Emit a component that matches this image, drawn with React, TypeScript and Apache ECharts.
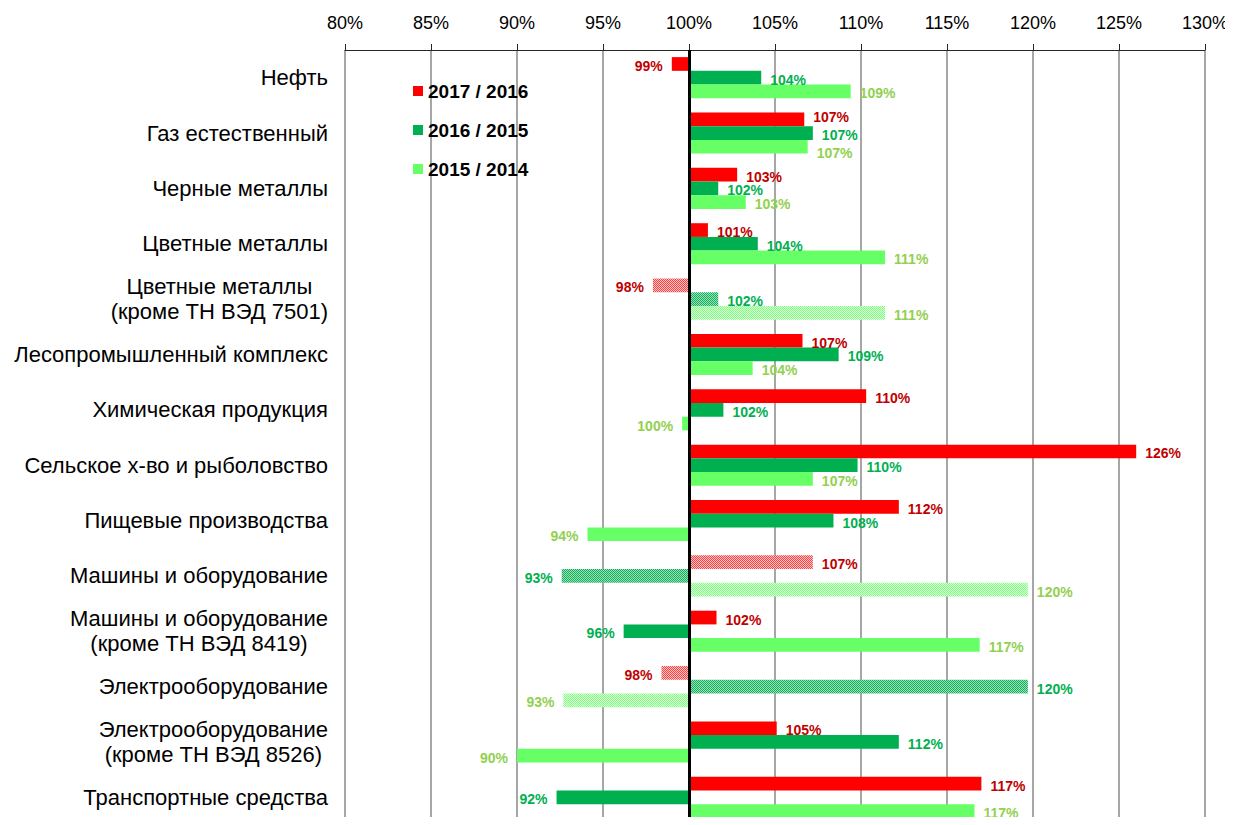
import React, { useEffect, useRef } from "react";
import * as echarts from "echarts";

const categories = [
  "Нефть",
  "Газ естественный",
  "Черные металлы",
  "Цветные металлы",
  "Цветные металлы\n(кроме ТН ВЭД 7501)",
  "Лесопромышленный комплекс",
  "Химическая продукция",
  "Сельское х-во и рыболовство",
  "Пищевые производства",
  "Машины и оборудование",
  "Машины и оборудование\n(кроме ТН ВЭД 8419)",
  "Электрооборудование",
  "Электрооборудование\n(кроме ТН ВЭД 8526)",
  "Транспортные средства",
];

const seriesNames = ["2017 / 2016", "2016 / 2015", "2015 / 2014"];

const values2017 = [99.0, 106.7, 102.8, 101.1, 97.9, 106.6, 110.3, 126.0, 112.2, 107.2, 101.6, 98.4, 105.1, 117.0];
const values2016 = [104.2, 107.2, 101.7, 104.0, 101.7, 108.7, 102.0, 109.8, 108.4, 92.6, 96.2, 119.7, 112.2, 92.3];
const values2015 = [109.4, 106.9, 103.3, 111.4, 111.4, 103.7, 99.6, 107.2, 94.1, 119.7, 116.9, 92.7, 90.0, 116.6];

// categories whose bars are drawn hatched
const hatchedRows = [4, 9, 11];
// row whose three labels stack tightly (spread slightly apart)
const crowdedRow = 1;

const tickValues = [80, 85, 90, 95, 100, 105, 110, 115, 120, 125, 130];
const baseValue = 100;

const barColors = ["#ff0000", "#00b050", "#66ff66"];
const hatchLight = ["#ffc8c8", "#9ee0bc", "#dcffdc"];
const hatchDark = ["#ff4040", "#10b058", "#80ff80"];
const labelColors = ["#c00000", "#00b050", "#92d050"];

const font = '"Liberation Sans", Arial, sans-serif';

function makeHatch(dark: string, light: string): any {
  const c = document.createElement("canvas");
  c.width = 4;
  c.height = 4;
  const ctx = c.getContext("2d")!;
  for (let y = 0; y < 4; y++) {
    for (let x = 0; x < 4; x++) {
      ctx.fillStyle = (x + y) % 2 === 0 ? dark : light;
      ctx.fillRect(x, y, 1, 1);
    }
  }
  return { image: c.toDataURL(), repeat: "repeat" };
}

export default function App() {
  const ref = useRef<HTMLDivElement>(null);

  useEffect(() => {
    if (!ref.current) return;
    const chart = echarts.init(ref.current, undefined, { renderer: "svg" });
    const all = [values2017, values2016, values2015];
    const patterns = barColors.map((_, i) => makeHatch(hatchDark[i], hatchLight[i]));
    const crowdOffsets = [-2, 2, 6];

    const series: any[] = all.map((vals, si) => ({
      name: seriesNames[si],
      type: "bar",
      barWidth: 13.7,
      barGap: "0%",
      itemStyle: { color: barColors[si] },
      label: {
        show: true,
        color: labelColors[si],
        fontWeight: "bold",
        fontSize: 14,
        lineHeight: 13,
        fontFamily: font,
        distance: 9,
        offset: [0, 2],
        formatter: (p: any) => Math.round(p.value + baseValue) + "%",
      },
      data: vals.map((v, i) => {
        const label: any = { position: v < baseValue ? "left" : "right" };
        if (i === crowdedRow) label.offset = [0, crowdOffsets[si]];
        const item: any = { value: v - baseValue, label };
        if (hatchedRows.includes(i)) {
          item.itemStyle = { color: patterns[si] };
        }
        return item;
      }),
    }));

    series.push({
      name: "base",
      type: "line",
      data: [],
      z: 10,
      markLine: {
        silent: true,
        symbol: "none",
        label: { show: false },
        lineStyle: { color: "#000", width: 3, type: "solid" },
        data: [{ xAxis: 0 }],
      },
    });

    chart.setOption({
      animation: false,
      backgroundColor: "#fff",
      legend: {
        data: seriesNames.map((n, i) => ({ name: n, itemStyle: { color: barColors[i] } })),
        orient: "vertical",
        left: 408,
        top: 76,
        icon: "rect",
        itemWidth: 10,
        itemHeight: 10,
        itemGap: 19,
        textStyle: {
          fontSize: 19,
          fontWeight: "bold",
          color: "#000",
          fontFamily: font,
          lineHeight: 20,
        },
      },
      grid: { left: 345, right: 28, top: 50, height: 780 },
      xAxis: {
        type: "value",
        position: "top",
        min: tickValues[0] - baseValue,
        max: tickValues[tickValues.length - 1] - baseValue,
        interval: 5,
        axisLine: { show: true, lineStyle: { color: "#262626", width: 1 } },
        axisTick: { show: true, length: 6, lineStyle: { color: "#262626" } },
        axisLabel: {
          fontSize: 18,
          color: "#000",
          fontFamily: font,
          margin: 18,
          formatter: (v: number) => v + baseValue + "%",
        },
        splitLine: { show: true, lineStyle: { color: "#a6a6a6", width: 2 } },
      },
      yAxis: {
        type: "category",
        inverse: true,
        data: categories,
        axisLine: { show: false },
        axisTick: { show: false },
        axisLabel: {
          margin: 17,
          formatter: (v: string) =>
            v
              .split("\n")
              .map((l) => "{c|" + l + "}")
              .join("\n"),
          rich: {
            c: {
              align: "center",
              fontSize: 22,
              color: "#000",
              fontFamily: font,
              lineHeight: 25,
            },
          },
        },
      },
      series,
    });

    return () => chart.dispose();
  }, []);

  return <div ref={ref} style={{ width: 1233, height: 825, margin: -8 }} />;
}
